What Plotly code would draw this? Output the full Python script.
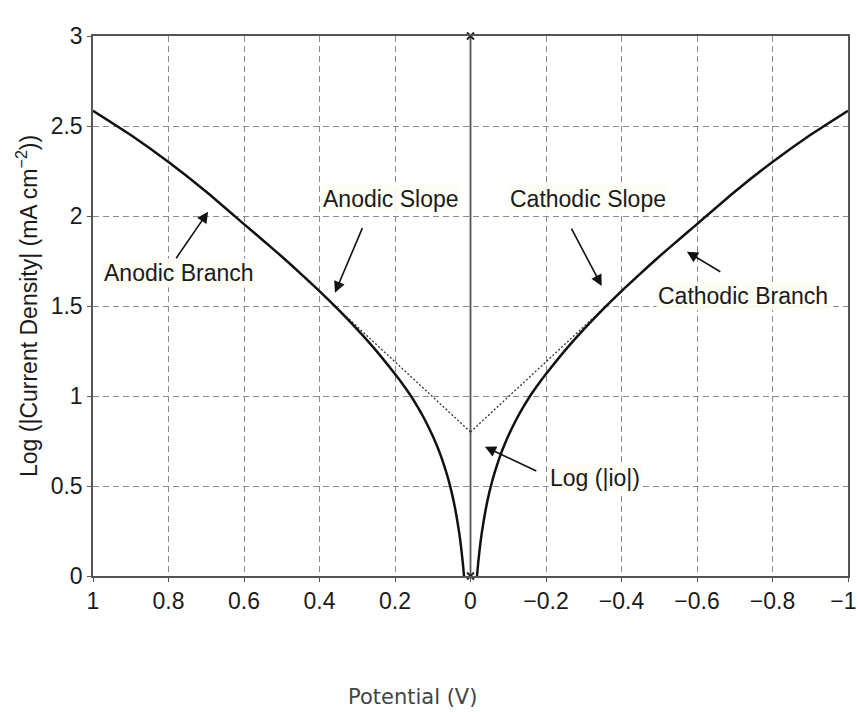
import plotly.graph_objects as go

# ---- data ----
anodic_E = [1.00, 0.90, 0.80, 0.70, 0.60, 0.55, 0.50, 0.45, 0.40, 0.35, 0.30, 0.25, 0.20, 0.18,
            0.16, 0.14, 0.12, 0.10, 0.09, 0.08, 0.07, 0.06, 0.05, 0.04, 0.03, 0.025, 0.02, 0.0172]
anodic_logi = [2.585, 2.450, 2.300, 2.135, 1.955, 1.865, 1.775, 1.680, 1.583, 1.480, 1.370, 1.252,
               1.122, 1.067, 1.007, 0.939, 0.864, 0.778, 0.729, 0.676, 0.615, 0.547, 0.466,
               0.367, 0.241, 0.162, 0.065, 0.000]
cathodic_E = [-0.0172, -0.02, -0.025, -0.03, -0.04, -0.05, -0.06, -0.07, -0.08, -0.09, -0.10,
              -0.12, -0.14, -0.16, -0.18, -0.20, -0.25, -0.30, -0.35, -0.40, -0.45, -0.50,
              -0.55, -0.60, -0.70, -0.80, -0.90, -1.00]
cathodic_logi = [0.000, 0.065, 0.162, 0.241, 0.367, 0.466, 0.547, 0.615, 0.676, 0.729, 0.778,
                 0.864, 0.939, 1.007, 1.067, 1.122, 1.252, 1.370, 1.480, 1.583, 1.680, 1.775,
                 1.865, 1.955, 2.135, 2.300, 2.450, 2.585]
anodic_slope_E = [0.0, 0.50]
anodic_slope_logi = [0.80, 1.775]
cathodic_slope_E = [0.0, -0.50]
cathodic_slope_logi = [0.80, 1.775]
zero_line_E = [0, 0]
zero_line_logi = [0, 3]

x_tickvals = [1, 0.8, 0.6, 0.4, 0.2, 0, -0.2, -0.4, -0.6, -0.8, -1]
x_ticktext = ["1", "0.8", "0.6", "0.4", "0.2", "0", "\u22120.2", "\u22120.4", "\u22120.6", "\u22120.8",
              "\u22121\u2009\u2009"]
y_tickvals = [0, 0.5, 1, 1.5, 2, 2.5, 3]
y_ticktext = ["0", "0.5", "1", "1.5", "2", "2.5", "3"]

FONT = "Liberation Sans, Arial, Helvetica, sans-serif"
TXT = "#1a1a1a"

fig = go.Figure()
fig.add_trace(go.Scatter(x=zero_line_E, y=zero_line_logi, mode="lines+markers",
                         line=dict(color="#555", width=1.8),
                         marker=dict(symbol="x-thin", size=7, line=dict(color="#222", width=2)),
                         cliponaxis=False, hoverinfo="skip"))
fig.add_trace(go.Scatter(x=anodic_slope_E, y=anodic_slope_logi, mode="lines",
                         line=dict(color="#333", width=1.3, dash="2px,2px")))
fig.add_trace(go.Scatter(x=cathodic_slope_E, y=cathodic_slope_logi, mode="lines",
                         line=dict(color="#333", width=1.3, dash="2px,2px")))
fig.add_trace(go.Scatter(x=anodic_E, y=anodic_logi, mode="lines",
                         line=dict(color="#111", width=2.5, shape="spline", smoothing=0.5),
                         cliponaxis=False))
fig.add_trace(go.Scatter(x=cathodic_E, y=cathodic_logi, mode="lines",
                         line=dict(color="#111", width=2.5, shape="spline", smoothing=0.5),
                         cliponaxis=False))

axis_common = dict(showgrid=True, gridcolor="#8a8a8a", gridwidth=1, griddash="6px,4px",
                   showline=True, linecolor="#555", linewidth=1.5, mirror=True,
                   ticks="outside", ticklen=4, tickcolor="#555", zeroline=False,
                   ticklabeloverflow="allow", automargin=False,
                   tickfont=dict(family=FONT, size=23, color=TXT))
fig.update_xaxes(range=[1, -1], tickvals=x_tickvals, ticktext=x_ticktext, **axis_common)
fig.update_yaxes(range=[0, 3], tickvals=y_tickvals, ticktext=y_ticktext, **axis_common)

def arrow(x, y, ax, ay):
    fig.add_annotation(x=x, y=y, ax=ax, ay=ay, text="", showarrow=True,
                       arrowhead=2, arrowsize=1.4, arrowwidth=1.6, arrowcolor="#111")

def label(x, y, t):
    fig.add_annotation(x=x, y=y, text=t, showarrow=False, xanchor="center", yanchor="middle",
                       font=dict(family=FONT, size=23, color=TXT), bgcolor="rgba(253,253,245,0.9)")

label(0.772, 1.683, "Anodic Branch")
arrow(0.695, 2.024, -33, 48)
label(0.211, 2.094, "Anodic Slope")
arrow(0.359, 1.574, 28, -66)
label(-0.31, 2.094, "Cathodic Slope")
arrow(-0.3475, 1.611, -31, -59)
label(-0.722, 1.556, "Cathodic Branch")
arrow(-0.573, 1.802, 35, 21)
label(-0.33, 0.544, "Log (|io|)")
arrow(-0.038, 0.718, 53, 25)

# axis titles
fig.add_annotation(xref="paper", yref="paper", x=(27 - 93) / 755, y=0.5, textangle=-90,
                   text="Log (|Current Density| (mA cm<sup>\u22122</sup>))", showarrow=False,
                   xanchor="center", yanchor="middle",
                   font=dict(family=FONT, size=23, color=TXT))
fig.add_annotation(xref="paper", yref="paper", x=(412 - 93) / 755, y=-121 / 540,
                   text="Potential (V)", showarrow=False, xanchor="center", yanchor="middle",
                   font=dict(family="DejaVu Sans, sans-serif", size=21, color="#444"))

fig.update_layout(width=858, height=712, margin=dict(l=93, r=10, t=36, b=136, autoexpand=False),
                  paper_bgcolor="white", plot_bgcolor="white", showlegend=False)

fig.write_html("out.html")
